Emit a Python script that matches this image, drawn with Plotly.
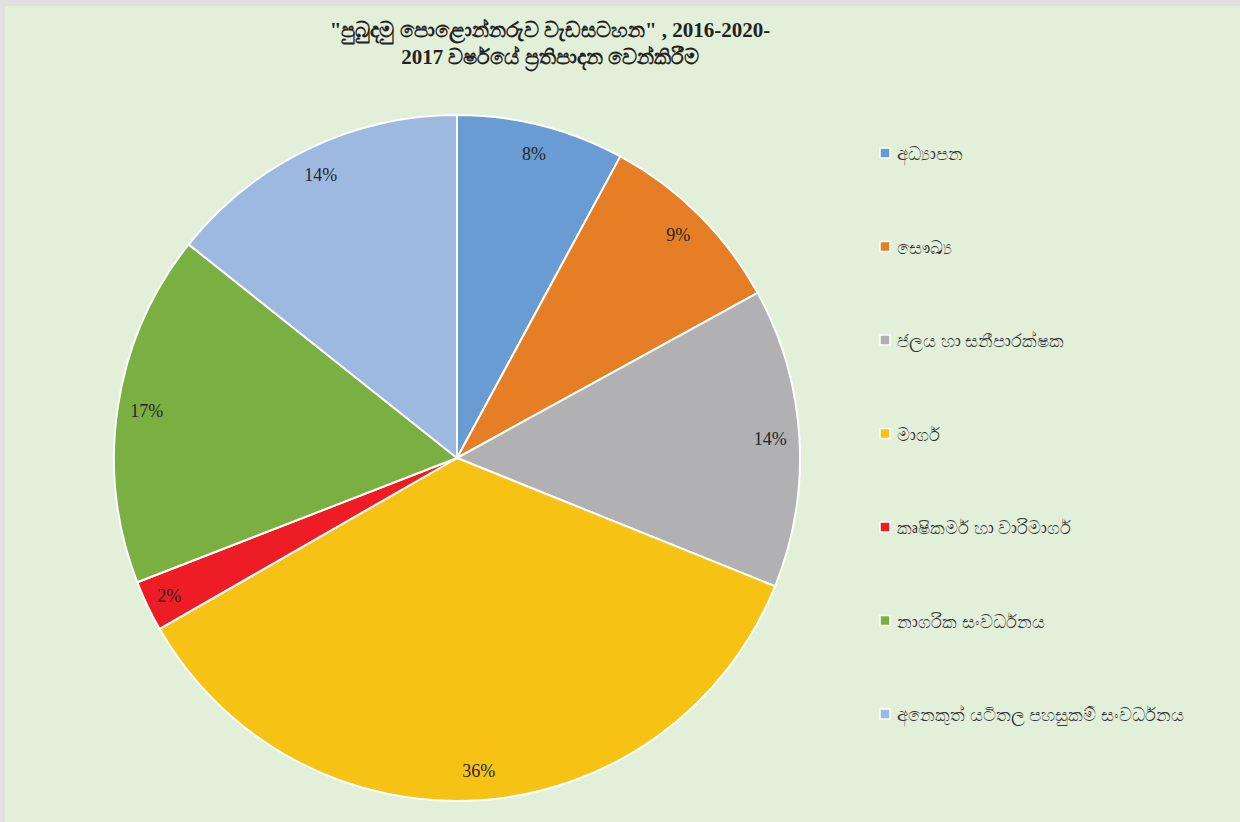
import plotly.graph_objects as go

categories = [
    "අධ්‍යාපන",
    "සෞඛ්‍ය",
    "ජලය හා සනීපාරක්ෂක",
    "මාර්ග",
    "කෘෂිකර්ම හා වාරිමාර්ග",
    "නාගරික සංවර්ධනය",
    "අනෙකුත් යටිතල පහසුකම් සංවර්ධනය",
]
shares = [7.9, 9.1, 14.1, 35.6, 2.4, 16.6, 14.3]
colors = ["#689CD2", "#E57E25", "#B1B1B4", "#F6C315", "#EE1D25", "#7AB042", "#9DB9E0"]
title_text = '<b>"පුබුදමු පොළොන්නරුව වැඩසටහන" , 2016-2020-<br>2017 වර්ෂයේ ප්‍රතිපාදන වෙන්කිරීම</b>'

W, H = 1240, 822
cx, cy, r = 457, 458, 343
dom_x = [(cx - r) / W, (cx + r) / W]
dom_y = [1 - (cy + r) / H, 1 - (cy - r) / H]

fig = go.Figure()
fig.add_trace(go.Pie(
    labels=categories, values=shares, sort=False, direction="clockwise", rotation=0,
    marker=dict(colors=colors, line=dict(color="white", width=2)),
    textinfo="none", showlegend=False, domain=dict(x=dom_x, y=dom_y),
    hovertemplate="%{label}: %{percent:.0%}<extra></extra>",
))
# transparent ring used only to place the percentage labels near the outer edge
fig.add_trace(go.Pie(
    labels=categories, values=shares, sort=False, direction="clockwise", rotation=0,
    hole=0.83,
    marker=dict(colors=["rgba(0,0,0,0)"] * len(categories), line=dict(width=0)),
    texttemplate="%{percent:.0%}", textposition="inside", insidetextorientation="horizontal",
    textfont=dict(family="Liberation Serif, DejaVu Serif, serif", size=18, color="#262626"),
    showlegend=False, hoverinfo="skip", domain=dict(x=dom_x, y=dom_y),
))

shapes = [
    dict(type="rect", xref="paper", yref="paper", x0=5 / W, x1=1, y0=0, y1=1 - 6 / H,
         fillcolor="#E2EFD9", line=dict(width=0), layer="below"),
]
annotations = []
leg_x = 885
for i, (lab, col) in enumerate(zip(categories, colors)):
    ly = 153 + 93.5 * i
    shapes.append(dict(type="rect", xref="paper", yref="paper",
                       x0=(leg_x - 5) / W, x1=(leg_x + 5) / W,
                       y0=1 - (ly + 5) / H, y1=1 - (ly - 5) / H,
                       fillcolor=col, line=dict(color="white", width=1.5)))
    annotations.append(dict(text=lab, xref="paper", yref="paper", x=(leg_x + 10) / W,
                            y=1 - ly / H, xanchor="left", yanchor="middle", showarrow=False,
                            font=dict(family="Noto Sans, DejaVu Sans, sans-serif", size=18, color="#333333")))

fig.update_layout(
    width=W, height=H,
    margin=dict(l=0, r=0, t=0, b=0),
    paper_bgcolor="#E0E0E0", plot_bgcolor="#E2EFD9",
    title=dict(text=title_text, x=550 / W, xanchor="center", y=1 - 37 / H, yanchor="middle",
               font=dict(family="Liberation Serif, DejaVu Serif, serif", size=21, color="#222222")),
    shapes=shapes, annotations=annotations,
)
fig.write_html("out.html", config={"displayModeBar": False},
               post_script="document.body.style.margin='0px';")
